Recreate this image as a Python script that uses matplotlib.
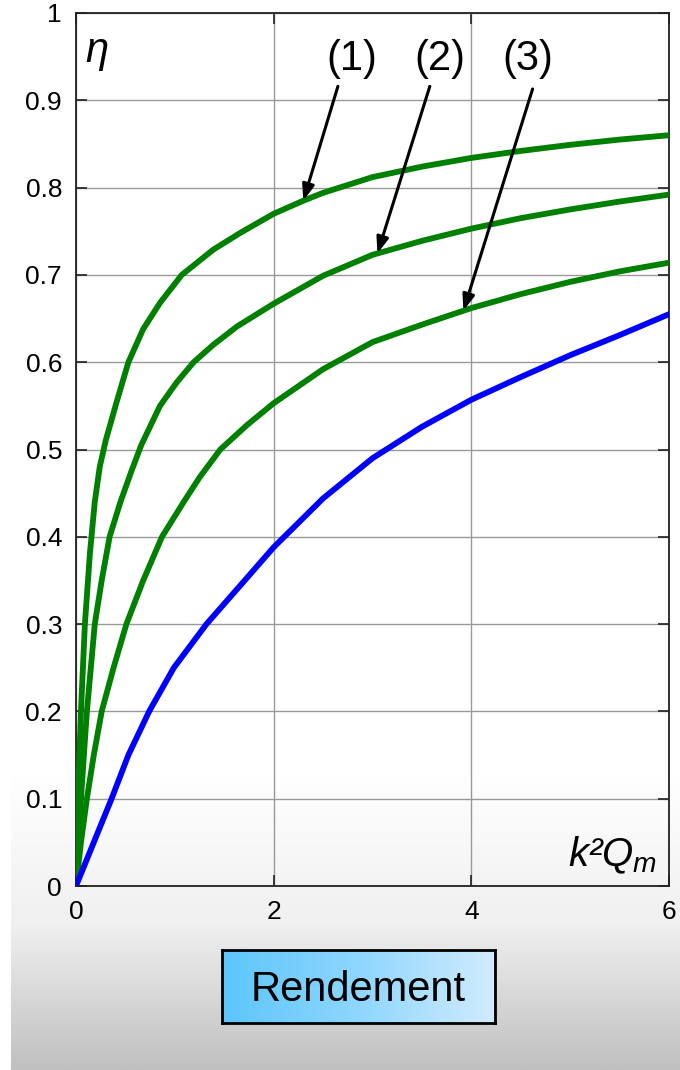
"""
Rendement eta vs k2Qm: three green curves (1)-(3) and a blue reference curve.
"""

import matplotlib
matplotlib.use("Agg")
import matplotlib.pyplot as plt
import numpy as np
from matplotlib.colors import LinearSegmentedColormap

plt.rcParams["font.family"] = ["Liberation Sans", "DejaVu Sans"]
plt.rcParams["mathtext.fontset"] = "custom"
plt.rcParams["mathtext.it"] = "Liberation Sans:italic"
plt.rcParams["mathtext.rm"] = "Liberation Sans"

# ── data ────────────────────────────────────────────────────────────
x_curve1 = [0, 0.02, 0.05, 0.09, 0.14, 0.19, 0.24, 0.30, 0.41, 0.53, 0.68,
            0.85, 1.07, 1.39, 1.66, 2.0, 2.3, 2.5, 3.0, 3.5, 4.0, 4.5, 5.0, 5.5, 6.0]
y_curve1 = [0, 0.10, 0.20, 0.30, 0.38, 0.44, 0.48, 0.51, 0.554, 0.60, 0.638,
            0.668, 0.70, 0.729, 0.748, 0.770, 0.785, 0.794, 0.812, 0.824, 0.834,
            0.842, 0.849, 0.855, 0.860]

x_curve2 = [0, 0.05, 0.11, 0.19, 0.26, 0.34, 0.45, 0.56, 0.66, 0.85, 1.02,
            1.19, 1.39, 1.63, 2.0, 2.5, 3.0, 3.5, 4.0, 4.5, 5.0, 5.5, 6.0]
y_curve2 = [0, 0.10, 0.20, 0.30, 0.35, 0.40, 0.44, 0.475, 0.505, 0.55, 0.577,
            0.60, 0.620, 0.641, 0.667, 0.699, 0.723, 0.739, 0.753, 0.765, 0.775,
            0.784, 0.792]

x_curve3 = [0, 0.05, 0.11, 0.18, 0.26, 0.38, 0.51, 0.68, 0.87, 1.09, 1.25, 1.46,
            1.73, 2.0, 2.5, 3.0, 3.5, 4.0, 4.5, 5.0, 5.5, 6.0]
y_curve3 = [0, 0.05, 0.10, 0.15, 0.20, 0.25, 0.30, 0.35, 0.40, 0.44, 0.468, 0.50,
            0.528, 0.553, 0.592, 0.623, 0.643, 0.662, 0.678, 0.692, 0.704, 0.714]

x_blue = [0, 0.18, 0.36, 0.53, 0.74, 0.99, 1.32, 1.73, 2.0, 2.5, 3.0, 3.5,
          4.0, 4.5, 5.0, 5.5, 6.0]
y_blue = [0, 0.05, 0.10, 0.15, 0.20, 0.25, 0.30, 0.353, 0.388, 0.444, 0.49, 0.526,
          0.557, 0.583, 0.608, 0.631, 0.655]

curve_labels = ["(1)", "(2)", "(3)"]
arrow_targets = [2.3, 3.05, 3.92]            # x where each arrow hits its curve
x_ticks = [0, 2, 4, 6]
y_ticks = [0, 0.1, 0.2, 0.3, 0.4, 0.5, 0.6, 0.7, 0.8, 0.9, 1]
y_ticklabels = ["0", "0.1", "0.2", "0.3", "0.4", "0.5", "0.6", "0.7", "0.8", "0.9", "1"]

W, H = 680, 1070
fig = plt.figure(figsize=(W / 100, H / 100), dpi=100)
fig.patch.set_facecolor("white")

# ── grey gradient panel behind the lower part ───────────────────────
bg = fig.add_axes([0, 0, 1, 1], zorder=-5)
bg.set_xlim(0, W); bg.set_ylim(H, 0); bg.axis("off")
grey = LinearSegmentedColormap.from_list("g", ["#ffffff", "#f0f0f0", "#c0c0c0"])
bg.imshow(np.linspace(0, 1, 256)[:, None], cmap=grey, aspect="auto",
          extent=(11, W, 1070, 775), zorder=0)

# ── main axes ───────────────────────────────────────────────────────
ax = fig.add_axes([76 / W, (H - 886) / H, 593 / W, 873 / H])
ax.patch.set_alpha(0)

green, blue = "#008000", "#0000ff"
curves = [(x_curve1, y_curve1), (x_curve2, y_curve2), (x_curve3, y_curve3)]
for xs, ys in curves:
    ax.plot(xs, ys, color=green, lw=4.2, solid_capstyle="round",
            solid_joinstyle="round", zorder=3)
ax.plot(x_blue, y_blue, color=blue, lw=4.2, solid_capstyle="round",
        solid_joinstyle="round", zorder=3)

ax.set_xlim(0, 6); ax.set_ylim(0, 1)
ax.set_xticks(x_ticks)
ax.set_yticks(y_ticks, y_ticklabels)
ax.grid(True, color="#999999", lw=1.0)
ax.set_axisbelow(True)
ax.tick_params(direction="in", length=8, width=1.2, top=True, right=True,
               labelsize=19, pad=10, colors="#222222", labelcolor="black")
for s in ax.spines.values():
    s.set_color("#222222"); s.set_linewidth(1.3)

# axis names inside the frame
ax.text(0.09, 0.944, "η", fontsize=30, style="italic", ha="left", va="baseline")
ax.text(5.88, 0.022, "$k$²$Q_m$", fontsize=29, style="italic",
        ha="right", va="baseline")

# ── labels (1)..(3) with arrows ─────────────────────────────────────
label_pos = [(2.79, 0.947), (3.68, 0.947), (4.57, 0.947)]
arrow_start = [(2.65, 0.916), (3.58, 0.916), (4.62, 0.913)]
for (xs, ys), lab, xt, lp, st in zip(curves, curve_labels, arrow_targets,
                                      label_pos, arrow_start):
    ax.text(*lp, lab, fontsize=30, ha="center", va="center")
    ax.annotate("", xy=(xt, np.interp(xt, xs, ys)), xytext=st,
                arrowprops=dict(arrowstyle="-|>,head_length=0.8,head_width=0.3",
                                mutation_scale=12, lw=2.2, color="black",
                                shrinkA=0, shrinkB=0), zorder=4)

# ── "Rendement" button ──────────────────────────────────────────────
bx = fig.add_axes([222 / W, (H - 1023) / H, 273 / W, 73 / H])
sky = LinearSegmentedColormap.from_list("b", ["#5cc6fa", "#8fd6fd", "#d2ecfe"])
bx.imshow(np.linspace(0, 1, 256)[None, :], cmap=sky, aspect="auto",
          extent=(0, 1, 0, 1))
bx.set_xticks([]); bx.set_yticks([])
for s in bx.spines.values():
    s.set_color("black"); s.set_linewidth(2)
bx.text(0.5, 0.45, "Rendement", fontsize=30, ha="center", va="center",
        transform=bx.transAxes)

fig.savefig("out.png", dpi=100)
